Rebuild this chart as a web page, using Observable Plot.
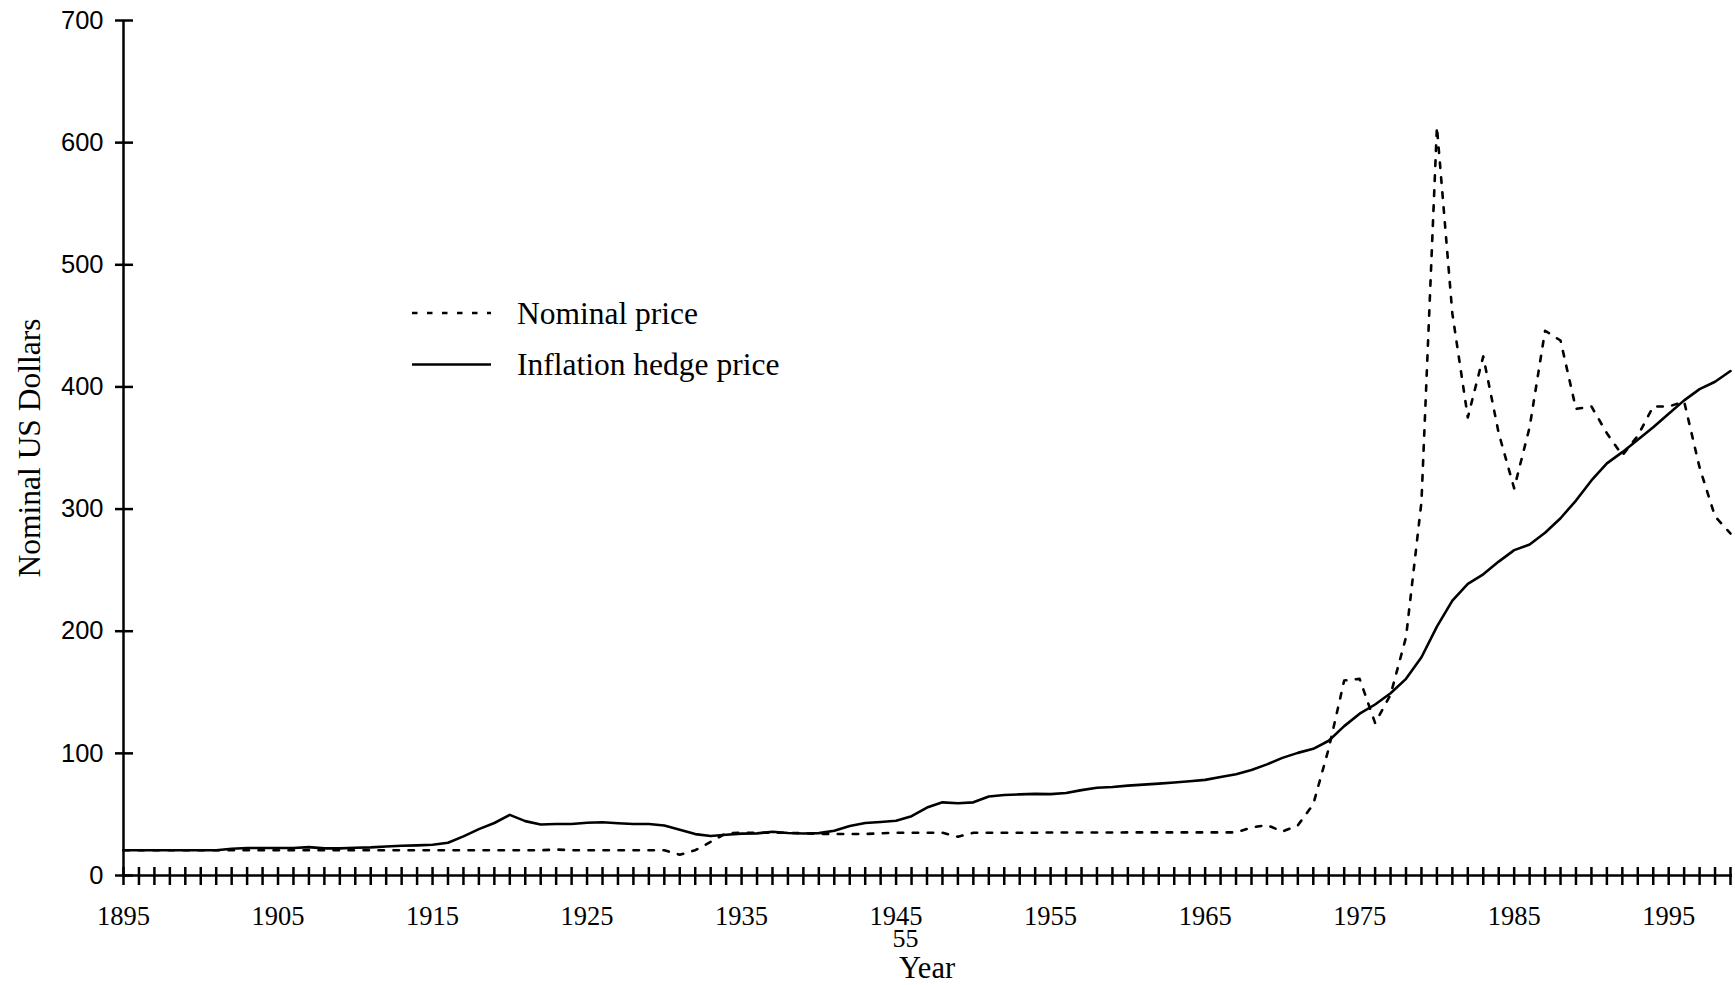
<!DOCTYPE html>
<html>
<head>
<meta charset="utf-8">
<script src="https://cdn.jsdelivr.net/npm/d3@7"></script>
<script src="https://cdn.jsdelivr.net/npm/@observablehq/plot@0.6"></script>
<style>
  html, body { margin: 0; padding: 0; background: #fff; }
  #chart { width: 1735px; height: 985px; }
</style>
</head>
<body>
<div id="chart"></div>
<script>
// Gold price per ounce, 1895–1999: yearly nominal price and the inflation hedge price
const firstYear = 1895;
const lastYear = 1999;
const years = d3.range(firstYear, lastYear + 1);

const nominalPrice = [
  20.67, 20.67, 20.67, 20.67, 20.67,                                   // 1895–1899
  20.67, 20.67, 20.67, 20.67, 20.67, 20.67, 20.67, 20.67, 20.67, 20.67, // 1900s
  20.67, 20.67, 20.67, 20.67, 20.67, 20.67, 20.67, 20.67, 20.67, 20.67, // 1910s
  20.67, 20.67, 20.67, 21.3, 20.67, 20.67, 20.67, 20.67, 20.67, 20.67,  // 1920s
  20.67, 17.0, 20.7, 27.5, 34.7, 35.0, 35.0, 35.0, 35.0, 34.5,          // 1930s
  34.0, 34.0, 34.0, 34.0, 34.5, 35.0, 35.0, 35.0, 35.0, 31.7,           // 1940s
  35.0, 35.0, 35.0, 35.0, 35.0, 35.2, 35.2, 35.2, 35.2, 35.2,           // 1950s
  35.3, 35.3, 35.3, 35.3, 35.3, 35.3, 35.3, 35.3, 39.3, 41.3,           // 1960s
  36.0, 41.0, 58.4, 104.0, 159.6, 161.0, 124.8, 148.0, 195.0, 306.0,    // 1970s
  613.0, 460.0, 375.0, 425.0, 362.0, 317.0, 367.0, 446.0, 438.0, 382.0, // 1980s
  384.0, 362.0, 344.0, 360.0, 384.0, 384.0, 388.0, 334.0, 294.0, 280.0  // 1990s
];

const hedgePrice = [
  20.67, 20.67, 20.67, 20.67, 20.67,                                    // 1895–1899
  20.67, 20.67, 21.9, 22.5, 22.5, 22.5, 22.5, 23.2, 22.2, 22.2,          // 1900s
  22.7, 23.0, 23.8, 24.4, 24.7, 25.2, 26.8, 32.0, 38.0, 43.0,            // 1910s
  49.6, 44.5, 41.8, 42.2, 42.2, 43.2, 43.6, 42.8, 42.2, 42.2,            // 1920s
  41.0, 37.5, 33.9, 32.3, 33.4, 34.3, 34.5, 35.8, 34.8, 34.4,            // 1930s
  34.7, 36.6, 40.6, 43.0, 43.8, 44.8, 48.6, 55.6, 59.9, 59.2,            // 1940s
  59.9, 64.7, 65.9, 66.4, 66.8, 66.6, 67.6, 69.9, 71.9, 72.4,            // 1950s
  73.6, 74.4, 75.2, 76.1, 77.1, 78.3, 80.6, 82.9, 86.4, 91.0,            // 1960s
  96.3, 100.4, 103.7, 110.3, 122.3, 132.5, 140.0, 149.2, 161.0, 178.7,   // 1970s
  203.8, 225.0, 238.8, 246.6, 257.0, 266.4, 271.0, 280.6, 292.5, 307.0,  // 1980s
  323.4, 337.4, 346.6, 356.7, 367.0, 378.0, 389.0, 398.2, 404.2, 413.0   // 1990s
];

const seriesNames = ["Nominal price", "Inflation hedge price"];
const xTickLabels = [1895, 1905, 1915, 1925, 1935, 1945, 1955, 1965, 1975, 1985, 1995];
const yTicks = [0, 100, 200, 300, 400, 500, 600, 700];
const xLabel = "Year";
const yLabel = "Nominal US Dollars";
const pageNumber = "55";

const nominalRows = years.map((year, i) => ({year, value: nominalPrice[i], series: seriesNames[0]}));
const hedgeRows = years.map((year, i) => ({year, value: hedgePrice[i], series: seriesNames[1]}));

const serif = "'Liberation Serif', 'Times New Roman', Times, serif";
const sans = "'Liberation Sans', Arial, Helvetica, sans-serif";
const dashPattern = "5.5,9.5";
const lineWidth = 2.6;
const axisWidth = 2.5;

// Legend drawn in the upper left of the plotting area
function legend() {
  const g = d3.create("svg:g").attr("text-anchor", "start");
  const items = [
    {name: seriesNames[0], dash: dashPattern},
    {name: seriesNames[1], dash: null}
  ];
  items.forEach((item, i) => {
    const y = 313 + i * 51.5;
    g.append("line")
      .attr("x1", 412).attr("x2", 491)
      .attr("y1", y).attr("y2", y)
      .attr("stroke", "black")
      .attr("stroke-width", lineWidth)
      .attr("stroke-dasharray", item.dash);
    g.append("text")
      .attr("x", 517).attr("y", y + 10.5)
      .attr("text-anchor", "start")
      .attr("font-family", serif)
      .attr("font-size", 31.5)
      .attr("fill", "black")
      .text(item.name);
  });
  return g.node();
}

const chart = Plot.plot({
  width: 1735,
  height: 985,
  marginLeft: 123,
  marginRight: 5,
  marginTop: 20,
  marginBottom: 110,
  style: {background: "white", color: "black", overflow: "visible"},
  x: {domain: [firstYear, lastYear], axis: null},
  y: {domain: [0, 700], axis: null},
  marks: [
    // axis lines
    Plot.ruleY([0], {x1: firstYear, x2: lastYear, stroke: "black", strokeWidth: axisWidth, insetRight: -2}),
    Plot.ruleX([firstYear], {y1: 0, y2: 700, stroke: "black", strokeWidth: axisWidth}),
    // yearly ticks crossing the x axis
    Plot.ruleX(years, {x: d => d, y1: 0, y2: 0, insetTop: 10, insetBottom: 8, stroke: "black", strokeWidth: axisWidth}),
    // ticks crossing the y axis
    Plot.ruleY(yTicks, {y: d => d, x1: firstYear, x2: firstYear, insetLeft: -8, insetRight: -10, stroke: "black", strokeWidth: axisWidth}),
    // tick labels
    Plot.text(xTickLabels, {
      x: d => d, text: d => String(d), frameAnchor: "bottom", lineAnchor: "bottom",
      dy: 49, fontFamily: serif, fontSize: 26.5, fill: "black"
    }),
    Plot.text(yTicks, {
      y: d => d, text: d => String(d), frameAnchor: "left", textAnchor: "end",
      dx: -20, fontFamily: sans, fontSize: 25.5, fill: "black"
    }),
    // axis titles
    Plot.text([yLabel], {
      text: d => d, frameAnchor: "left", textAnchor: "middle", rotate: -90, dx: -94,
      fontFamily: serif, fontSize: 31.5, fill: "black"
    }),
    Plot.text([xLabel], {
      text: d => d, frameAnchor: "bottom", lineAnchor: "bottom", dy: 102,
      fontFamily: serif, fontSize: 30.5, fill: "black"
    }),
    Plot.text([pageNumber], {
      text: d => d, frameAnchor: "bottom", lineAnchor: "bottom", dx: -21.5, dy: 71.5,
      fontFamily: serif, fontSize: 26, fill: "black"
    }),
    // the two price series
    Plot.line(nominalRows, {
      x: "year", y: "value", stroke: "black", strokeWidth: lineWidth,
      strokeDasharray: dashPattern, strokeLinejoin: "round"
    }),
    Plot.line(hedgeRows, {
      x: "year", y: "value", stroke: "black", strokeWidth: lineWidth, strokeLinejoin: "round"
    }),
    legend
  ]
});

document.getElementById("chart").appendChild(chart);
</script>
</body>
</html>
